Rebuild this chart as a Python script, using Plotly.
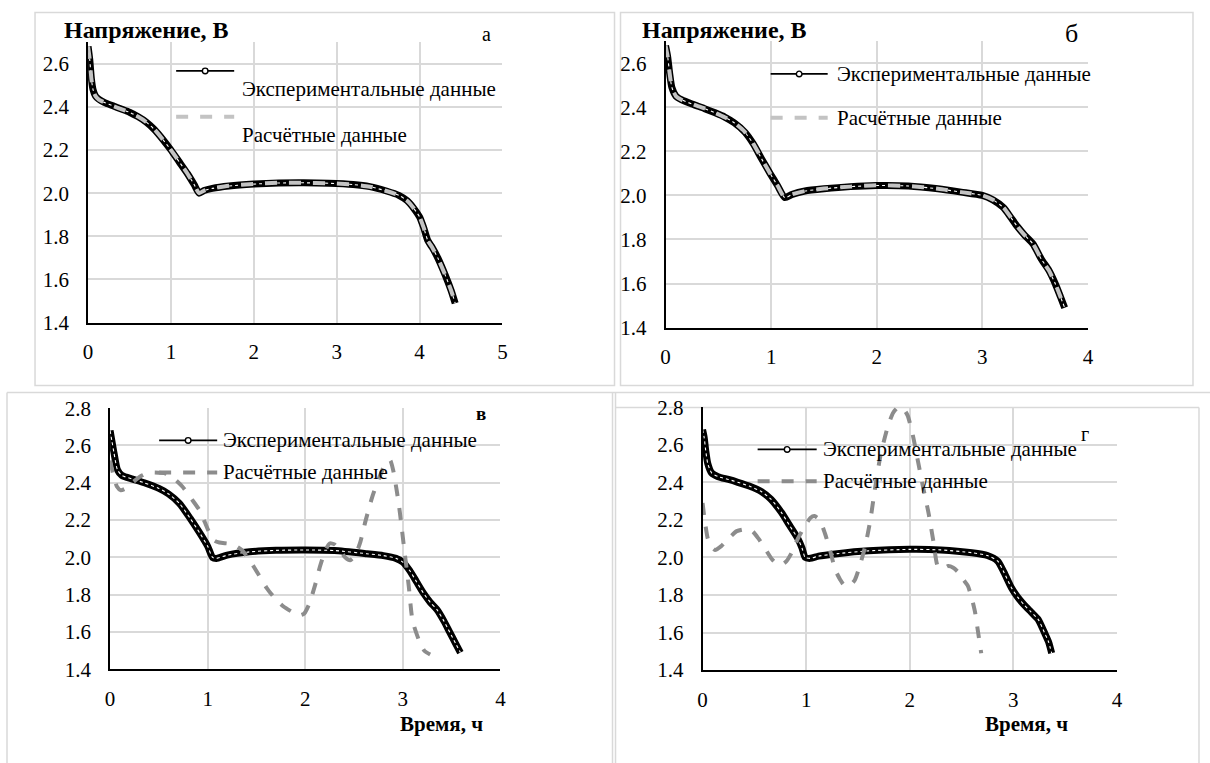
import plotly.graph_objects as go

W, H = 1210, 763

# ---------------- data (hours, volts) ----------------
# panel а
t_a = [0, 0.02, 0.04, 0.06, 0.09, 0.13, 0.2, 0.3, 0.4, 0.5, 0.6, 0.7, 0.8, 0.9, 1.0, 1.1, 1.2, 1.28, 1.34,
       1.4, 1.5, 1.7, 2.0, 2.3, 2.6, 2.9, 3.2, 3.4, 3.6, 3.75, 3.85, 3.93, 4.0, 4.05, 4.1, 4.15, 4.22, 4.31, 4.38, 4.43]
v_a = [2.68, 2.62, 2.53, 2.48, 2.45, 2.435, 2.42, 2.405, 2.39, 2.375, 2.355, 2.33, 2.295, 2.25, 2.2, 2.145, 2.09, 2.04, 2.0,
       2.012, 2.022, 2.033, 2.042, 2.047, 2.048, 2.046, 2.04, 2.03, 2.01, 1.99, 1.965, 1.93, 1.89, 1.84, 1.78, 1.75, 1.70, 1.62, 1.55, 1.49]
vc_a = [2.68, 2.62, 2.53, 2.48, 2.45, 2.434, 2.42, 2.404, 2.39, 2.374, 2.355, 2.33, 2.296, 2.25, 2.2, 2.146, 2.09, 2.04, 2.0,
        2.012, 2.022, 2.034, 2.043, 2.048, 2.048, 2.046, 2.04, 2.03, 2.01, 1.99, 1.965, 1.93, 1.89, 1.84, 1.78, 1.75, 1.70, 1.62, 1.55, 1.49]

# panel б
t_b = [0, 0.02, 0.04, 0.06, 0.1, 0.15, 0.25, 0.37, 0.47, 0.56, 0.65, 0.75, 0.83, 0.91, 0.99, 1.06, 1.13, 1.2, 1.32,
       1.5, 1.75, 2.0, 2.3, 2.58, 2.8, 3.0, 3.1, 3.2, 3.27, 3.33, 3.4, 3.48, 3.56, 3.63, 3.69, 3.74, 3.78]
v_b = [2.68, 2.63, 2.55, 2.49, 2.45, 2.435, 2.415, 2.394, 2.375, 2.356, 2.33, 2.288, 2.235, 2.166, 2.1, 2.045, 1.99, 2.005, 2.02,
       2.03, 2.04, 2.045, 2.043, 2.03, 2.015, 2.0, 1.98, 1.945, 1.9, 1.86, 1.82, 1.78, 1.71, 1.66, 1.6, 1.54, 1.49]
vc_b = [2.68, 2.63, 2.55, 2.49, 2.45, 2.434, 2.415, 2.395, 2.375, 2.355, 2.33, 2.289, 2.235, 2.167, 2.1, 2.045, 1.99, 2.005, 2.02,
        2.031, 2.04, 2.046, 2.043, 2.03, 2.015, 2.0, 1.98, 1.945, 1.9, 1.86, 1.82, 1.78, 1.71, 1.66, 1.6, 1.54, 1.49]

# panel в
t_c = [0, 0.02, 0.04, 0.075, 0.12, 0.23, 0.35, 0.5, 0.6, 0.71, 0.82, 0.92, 1.0, 1.05, 1.09, 1.2, 1.43, 1.7, 2.0,
       2.3, 2.63, 2.8, 2.93, 3.0, 3.07, 3.14, 3.21, 3.28, 3.35, 3.42, 3.48, 3.54, 3.59]
v_c = [2.68, 2.62, 2.56, 2.47, 2.44, 2.42, 2.4, 2.37, 2.34, 2.29, 2.21, 2.13, 2.06, 2.0, 1.995, 2.012, 2.03, 2.038, 2.04,
       2.037, 2.02, 2.01, 1.995, 1.975, 1.93, 1.87, 1.81, 1.76, 1.72, 1.66, 1.6, 1.54, 1.49]
tc_c = [0, 0.03, 0.07, 0.11, 0.16, 0.25, 0.33, 0.4, 0.57, 0.66, 0.74, 0.84, 0.92, 0.97, 1.02, 1.07, 1.12, 1.26, 1.35, 1.43,
        1.52, 1.6, 1.69, 1.77, 1.86, 1.94, 1.99, 2.04, 2.1, 2.15, 2.2, 2.25, 2.3, 2.35, 2.41, 2.46, 2.51, 2.56, 2.62, 2.69,
        2.76, 2.83, 2.87, 2.9, 2.94, 2.97, 3.02, 3.06, 3.1, 3.17, 3.22, 3.28]
vc_c = [2.52, 2.45, 2.38, 2.36, 2.37, 2.41, 2.44, 2.455, 2.45, 2.42, 2.38, 2.31, 2.25, 2.19, 2.13, 2.09, 2.08, 2.07, 2.04, 1.985,
        1.91, 1.84, 1.78, 1.74, 1.71, 1.69, 1.70, 1.75, 1.85, 1.95, 2.03, 2.075, 2.07, 2.04, 2.0, 1.985, 2.01, 2.075, 2.2, 2.33,
        2.43, 2.51, 2.52, 2.47, 2.35, 2.24, 2.02, 1.85, 1.66, 1.55, 1.5, 1.48]

# panel г
t_d = [0, 0.015, 0.03, 0.05, 0.087, 0.15, 0.25, 0.34, 0.45, 0.57, 0.66, 0.76, 0.84, 0.92, 0.96, 0.99, 1.04, 1.12, 1.3, 1.6,
       2.0, 2.3, 2.6, 2.75, 2.85, 2.91, 2.98, 3.04, 3.1, 3.17, 3.24, 3.3, 3.34, 3.37]
v_d = [2.68, 2.64, 2.57, 2.5, 2.45, 2.43, 2.415, 2.4, 2.38, 2.35, 2.31, 2.24, 2.17, 2.1, 2.05, 2.0, 1.995, 2.007, 2.02, 2.035,
       2.043, 2.04, 2.025, 2.01, 1.98, 1.92, 1.84, 1.79, 1.75, 1.71, 1.67, 1.6, 1.55, 1.49]
tc_d = [0, 0.02, 0.05, 0.08, 0.12, 0.18, 0.25, 0.33, 0.41, 0.48, 0.54, 0.6, 0.67, 0.72, 0.76, 0.81, 0.86, 0.92, 0.99, 1.04,
        1.08, 1.13, 1.18, 1.23, 1.28, 1.33, 1.37, 1.42, 1.47, 1.52, 1.57, 1.62, 1.66, 1.72, 1.79, 1.84, 1.89, 1.94, 1.98, 2.03,
        2.08, 2.13, 2.18, 2.23, 2.27, 2.32, 2.37, 2.42, 2.47, 2.52, 2.56, 2.6, 2.63, 2.66, 2.69]
vc_d = [2.29, 2.2, 2.1, 2.06, 2.04, 2.06, 2.1, 2.14, 2.15, 2.14, 2.1, 2.05, 1.99, 1.965, 1.96, 1.98, 2.025, 2.1, 2.17, 2.21,
        2.22, 2.2, 2.13, 2.04, 1.935, 1.88, 1.85, 1.85, 1.88, 1.96, 2.06, 2.2, 2.35, 2.55, 2.70, 2.77, 2.80, 2.79, 2.755, 2.65,
        2.51, 2.37, 2.24, 2.08, 1.954, 1.94, 1.954, 1.945, 1.92, 1.88, 1.85, 1.78, 1.71, 1.6, 1.49]

y_ticks_ab = [1.4, 1.6, 1.8, 2.0, 2.2, 2.4, 2.6]
y_ticks_cd = [1.4, 1.6, 1.8, 2.0, 2.2, 2.4, 2.6, 2.8]
exp_name = "Экспериментальные данные"
calc_name = "Расчётные данные"
y_title = "Напряжение, В"
x_title = "Время, ч"
panel_letters = ["а", "б", "в", "г"]

# ---------------- styling / geometry ----------------
FONT = "Liberation Serif"
LIGHT = "#C3C3C3"
DARK = "#8C8C8C"
GRID = "#D9D9D9"

# the photographed page shows the figure slightly inset; map target picture pixels to figure pixels
SX, OX = 1198 / 1210, 6.0
SY, OY = 740 / 763, 10.0

def px(x):
    return min(max((x - OX) / SX, -50), W + 50) / W

def py(y):
    return 1 - ((y - OY) / SY) / H

panels = [
    dict(x0=89, x1=503, yb=321, yt=40.2, xr=[0, 5], yr=[1.4, 2.7], yt_=y_ticks_ab, col=LIGHT,
         t=t_a, v=v_a, tc=t_a, vc=vc_a, xtl=9),
    dict(x0=666, x1=1088, yb=326, yt=39.3, xr=[0, 4], yr=[1.4, 2.7], yt_=y_ticks_ab, col=LIGHT,
         t=t_b, v=v_b, tc=t_b, vc=vc_b, xtl=9),
    dict(x0=111, x1=501, yb=668.3, yt=406.7, xr=[0, 4], yr=[1.4, 2.8], yt_=y_ticks_cd, col=DARK,
         t=t_c, v=v_c, tc=tc_c, vc=vc_c, xtl=10),
    dict(x0=703, x1=1117, yb=669, yt=405.7, xr=[0, 4], yr=[1.4, 2.8], yt_=y_ticks_cd, col=DARK,
         t=t_d, v=v_d, tc=tc_d, vc=vc_d, xtl=10),
]

fig = go.Figure()
layout = {}
for i, p in enumerate(panels):
    sfx = "" if i == 0 else str(i + 1)
    xa, ya = "x" + sfx, "y" + sfx
    fig.add_trace(go.Scatter(x=p["t"], y=p["v"], xaxis=xa, yaxis=ya, mode="lines", name=exp_name,
                             line=dict(color="black", width=7, shape="spline", smoothing=0.6),
                             showlegend=False, hoverinfo="skip"))
    fig.add_trace(go.Scatter(x=p["t"], y=p["v"], xaxis=xa, yaxis=ya, mode="lines", name=exp_name,
                             line=dict(color="white", width=1.1, dash="dot", shape="spline", smoothing=0.6),
                             showlegend=False, hoverinfo="skip"))
    fig.add_trace(go.Scatter(x=p["tc"], y=p["vc"], xaxis=xa, yaxis=ya, mode="lines", name=calc_name,
                             line=dict(color=p["col"], width=4, dash="dash", shape="spline", smoothing=0.6),
                             showlegend=False, hoverinfo="skip"))
    layout["xaxis" + sfx] = dict(domain=[px(p["x0"]), px(p["x1"])], range=p["xr"], anchor=ya, dtick=1,
                                 showline=True, linecolor="black", linewidth=1.6, showgrid=True,
                                 gridcolor=GRID, gridwidth=1.5, zeroline=False, ticks="outside",
                                 ticklen=p["xtl"], tickcolor="rgba(0,0,0,0)",
                                 tickfont=dict(family=FONT, size=21, color="black"))
    layout["yaxis" + sfx] = dict(domain=[py(p["yb"]), py(p["yt"])], range=p["yr"], anchor=xa,
                                 tickvals=p["yt_"], ticktext=["%.1f" % v for v in p["yt_"]],
                                 showline=True, linecolor="black", linewidth=1.6, showgrid=True,
                                 gridcolor=GRID, gridwidth=1.5, zeroline=False, ticks="outside",
                                 ticklen=13, tickcolor="rgba(0,0,0,0)",
                                 tickfont=dict(family=FONT, size=21, color="black"))

shapes = []
annotations = []

def rect(x0, y0, x1, y1):
    shapes.append(dict(type="rect", xref="paper", yref="paper", x0=px(x0), x1=px(x1), y0=py(y1), y1=py(y0),
                       line=dict(color=GRID, width=1.5), fillcolor="rgba(0,0,0,0)", layer="below"))

def hline(x0, x1, y, color, width, dash="solid", layer="above"):
    shapes.append(dict(type="line", xref="paper", yref="paper", x0=px(x0), x1=px(x1), y0=py(y), y1=py(y),
                       line=dict(color=color, width=width, dash=dash), layer=layer))

def vline(x, y0, y1, color=GRID, width=1.5):
    shapes.append(dict(type="line", xref="paper", yref="paper", x0=px(x), x1=px(x), y0=py(y0), y1=py(y1),
                       line=dict(color=color, width=width), layer="below"))

def text(x, y, s, size=21, bold=False, anchor="left"):
    annotations.append(dict(xref="paper", yref="paper", x=px(x), y=py(y), text=("<b>%s</b>" % s) if bold else s,
                            showarrow=False, xanchor=anchor, yanchor="middle",
                            font=dict(family=FONT, size=size, color="black")))

def legend_exp(x0, x1, y):
    hline(x0, x1, y, "black", 1.6)
    c = (x0 + x1) / 2
    shapes.append(dict(type="circle", xref="paper", yref="paper", x0=px(c - 2.8), x1=px(c + 2.8),
                       y0=py(y + 2.8), y1=py(y - 2.8), line=dict(color="black", width=1.4), fillcolor="white"))

# panel frames
rect(36, 10.5, 615, 384)
rect(621, 10.5, 1193, 384)
hline(8, 1215, 391, GRID, 1.5, layer="below")
vline(8, 391, 800)
vline(613, 391, 800)
vline(616, 391, 800)
hline(616, 1199, 406, GRID, 1.5, layer="below")
vline(1199, 406, 800)

# legends
legend_exp(177, 235, 69)
text(241, 87, exp_name)
hline(177, 235, 115, LIGHT, 4, "dash")
text(241, 133, calc_name)

legend_exp(771, 828, 72)
text(835, 72, exp_name)
hline(771, 828, 116, LIGHT, 4, "dash")
text(835, 116, calc_name)

legend_exp(160, 218, 439)
text(222, 439, exp_name)
hline(160, 218, 471, DARK, 4, "dash")
text(222, 471, calc_name)

legend_exp(758, 817, 448)
text(821, 448, exp_name)
hline(758, 817, 480, DARK, 4, "dash")
text(821, 480, calc_name)

# axis titles
text(147, 28, y_title, size=24, bold=True, anchor="center")
text(725, 28, y_title, size=24, bold=True, anchor="center")
text(442, 723, x_title, size=21, bold=True, anchor="center")
text(1027, 723, x_title, size=21, bold=True, anchor="center")

# panel letters
text(487, 32, panel_letters[0], size=20, anchor="center")
text(1072, 32, panel_letters[1], size=26, anchor="center")
text(482, 412, panel_letters[2], size=19, bold=True, anchor="center")
text(1085, 433, panel_letters[3], size=20, anchor="center")

fig.update_layout(width=W, height=H, margin=dict(l=0, r=0, t=0, b=0), paper_bgcolor="white",
                  plot_bgcolor="white", showlegend=False, shapes=shapes, annotations=annotations, **layout)

fig.write_html("out.html", config={"displayModeBar": False},
               post_script="document.body.style.margin='0px';document.body.style.overflow='hidden';")
